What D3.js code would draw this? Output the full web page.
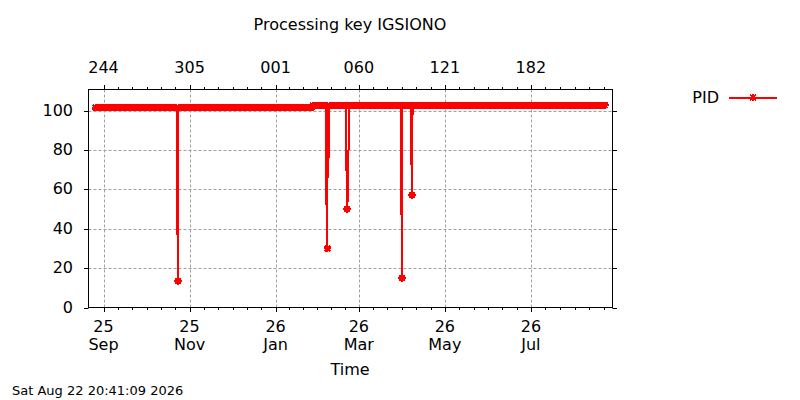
<!DOCTYPE html>
<html>
<head>
<meta charset="utf-8">
<script src="https://cdn.jsdelivr.net/npm/d3@7"></script>
<style>
    body { margin: 0; background: #ffffff; }
    svg text { font-family: "DejaVu Sans", sans-serif; fill: #000000; }
</style>
</head>
<body>
<div id="chart"></div>
<script>
// values
const title_text = "Processing key IGSIONO"
const x_label = "Time"
const series_name = "PID"
const time_stamp = "Sat Aug 22 20:41:09 2026"

const x_domain = ["2025-08-21T08:40", "2026-08-27T20:40"]
const x_ticks = ["2025-09-01", "2025-11-01", "2026-01-01", "2026-03-01", "2026-05-01", "2026-07-01"]
const y_domain = [0, 110.7]
const y_ticks = [0, 20, 40, 60, 80, 100]

// PID level, one sample a day, kept as runs of equal value
const run_from = ["2025-08-26", "2026-01-27"]
const run_to = ["2026-01-26", "2026-08-22"]
const run_value = [101.5, 102.6]

// drops below the level
const dip_times = [
    ["2025-10-23T00:00", "2025-10-23T06:00", "2025-10-23T17:00", "2025-10-23T19:00"],
    ["2026-02-05T14:00", "2026-02-05T18:00", "2026-02-06T16:00", "2026-02-06T19:00", "2026-02-07T11:00", "2026-02-07T17:00"],
    ["2026-02-20T00:00", "2026-02-20T03:00", "2026-02-20T20:00", "2026-02-21T11:30", "2026-02-21T20:00", "2026-02-22T05:00"],
    ["2026-03-30T22:00", "2026-03-31T02:00", "2026-03-31T20:00", "2026-03-31T23:00"],
    ["2026-04-06T18:00", "2026-04-07T05:00", "2026-04-07T17:00", "2026-04-08T03:00"]
]
const dip_values = [
    [101.5, 57, 13.5, 101.5],
    [102.6, 66, 30, 102.6, 66, 102.6],
    [102.6, 75, 50, 63, 89, 102.6],
    [102.6, 58, 15, 102.6],
    [102.6, 80, 57, 102.6]
]

const SVGWIDTH = 800, SVGHEIGHT = 400
const plot = {left: 88.5, right: 612.5, top: 89.5, bottom: 307.5}
const line_color = "#ff0000", grid_color = "#a0a0a0"

const parseTime = d3.timeParse("%Y-%m-%dT%H:%M")
const parseDay = d3.timeParse("%Y-%m-%d")

let axis_x = d3.scaleTime().domain(x_domain.map(parseTime)).range([plot.left, plot.right])
let axis_y = d3.scaleLinear().domain(y_domain).range([plot.bottom, plot.top])

// expand the runs into daily samples (noon)
let level_points = []
for (let i = 0; i < run_from.length; i++) {
    let days = d3.timeDay.range(parseDay(run_from[i]), d3.timeDay.offset(parseDay(run_to[i]), 1))
    for (let day of days) {
        level_points.push({t: d3.timeHour.offset(day, 12), v: run_value[i]})
    }
}

let dips = dip_times.map((times, i) => times.map((s, j) => ({t: parseTime(s), v: dip_values[i][j]})))
// daily samples that fall inside a drop are replaced by the drop itself
level_points = level_points.filter(p => !dips.some(d => p.t >= d[0].t && p.t <= d[d.length - 1].t))

let all_points = level_points.concat(...dips).sort((a, b) => a.t - b.t)
let marked_points = level_points.concat(dips.map(d => d[d3.minIndex(d, p => p.v)]))

let svg = d3.select("#chart").append("svg")
    .attr("width", SVGWIDTH)
    .attr("height", SVGHEIGHT)
    .style("background-color", "#ffffff")

let major_dates = x_ticks.map(parseDay)
// minor tics split every two month step in six
let minor_dates = []
let steps = [d3.timeMonth.offset(major_dates[0], -2)].concat(major_dates)
for (let m of steps) {
    let next = d3.timeMonth.offset(m, 2)
    for (let k = 1; k < 6; k++) {
        let t = new Date(+m + (next - m) * k / 6)
        if (axis_x(t) > plot.left + 1 && axis_x(t) < plot.right - 1) minor_dates.push(t)
    }
}

// grid
let grid = svg.append("g")
grid.selectAll(".gx").data(major_dates).enter().append("line")
    .attr("x1", d => Math.round(axis_x(d)) + 0.5).attr("x2", d => Math.round(axis_x(d)) + 0.5)
    .attr("y1", plot.top).attr("y2", plot.bottom)
    .style("stroke", grid_color).style("stroke-width", 1).style("stroke-dasharray", "3,2")
grid.selectAll(".gy").data(y_ticks.filter(v => v > 0)).enter().append("line")
    .attr("x1", plot.left).attr("x2", plot.right)
    .attr("y1", d => Math.round(axis_y(d)) + 0.5).attr("y2", d => Math.round(axis_y(d)) + 0.5)
    .style("stroke", grid_color).style("stroke-width", 1).style("stroke-dasharray", "3,2")

// data
const curve = d3.line().x(d => axis_x(d.t)).y(d => axis_y(d.v))
svg.append("path")
    .attr("d", curve(all_points))
    .attr("fill", "none")
    .attr("shape-rendering", "crispEdges")
    .style("stroke", line_color).style("stroke-width", 2)

const star = "M-3.8,0H3.8M0,-3.8V3.8M-2.8,-2.8L2.8,2.8M-2.8,2.8L2.8,-2.8"
svg.append("g").selectAll("path")
    .data(marked_points).enter()
    .append("path")
    .attr("d", star)
    .attr("transform", d => "translate(" + axis_x(d.t) + "," + axis_y(d.v) + ")")
    .attr("fill", "none")
    .attr("shape-rendering", "crispEdges")
    .style("stroke", line_color).style("stroke-width", 2)

// border and tics
let frame = svg.append("g").style("stroke", "#000000").style("stroke-width", 1)
frame.append("rect")
    .attr("x", plot.left).attr("y", plot.top)
    .attr("width", plot.right - plot.left).attr("height", plot.bottom - plot.top)
    .attr("fill", "none")
for (let v of y_ticks) {
    let yy = Math.round(axis_y(v)) + 0.5
    frame.append("line").attr("x1", plot.left - 4.5).attr("x2", plot.left).attr("y1", yy).attr("y2", yy)
    frame.append("line").attr("x1", plot.right).attr("x2", plot.right + 4.5).attr("y1", yy).attr("y2", yy)
}
for (let d of major_dates) {
    let xx = Math.round(axis_x(d)) + 0.5
    frame.append("line").attr("x1", xx).attr("x2", xx).attr("y1", plot.top - 4.5).attr("y2", plot.top)
    frame.append("line").attr("x1", xx).attr("x2", xx).attr("y1", plot.bottom).attr("y2", plot.bottom + 4.5)
}
for (let d of minor_dates) {
    let xx = Math.round(axis_x(d)) + 0.5
    frame.append("line").attr("x1", xx).attr("x2", xx).attr("y1", plot.top - 2.5).attr("y2", plot.top)
    frame.append("line").attr("x1", xx).attr("x2", xx).attr("y1", plot.bottom).attr("y2", plot.bottom + 2.5)
}

// tic labels
svg.append("g").selectAll("text")
    .data(y_ticks).enter().append("text")
    .attr("x", 73).attr("y", d => axis_y(d) + 5)
    .attr("text-anchor", "end").style("font-size", "16px")
    .text(d => d)

const dayOfYear = d3.timeFormat("%j"), yearFmt = d3.timeFormat("%y"), monthFmt = d3.timeFormat("%b")
svg.append("g").selectAll("text")
    .data(major_dates).enter().append("text")
    .attr("x", d => axis_x(d)).attr("y", 73)
    .attr("text-anchor", "middle").style("font-size", "16px")
    .text(d => dayOfYear(d))

let bottom_labels = svg.append("g").selectAll("text")
    .data(major_dates).enter().append("text")
    .attr("text-anchor", "middle").style("font-size", "16px")
bottom_labels.append("tspan").attr("x", d => axis_x(d)).attr("y", 332).text(d => yearFmt(d))
bottom_labels.append("tspan").attr("x", d => axis_x(d)).attr("y", 350).text(d => monthFmt(d))

// titles
svg.append("text").attr("x", 350).attr("y", 30)
    .attr("text-anchor", "middle").style("font-size", "16px").text(title_text)
svg.append("text").attr("x", 350).attr("y", 375)
    .attr("text-anchor", "middle").style("font-size", "16px").text(x_label)
svg.append("text").attr("x", 12).attr("y", 395)
    .style("font-size", "13px").text(time_stamp)

// key
let key = svg.append("g")
key.append("text").attr("x", 719).attr("y", 103)
    .attr("text-anchor", "end").style("font-size", "16px").text(series_name)
key.append("line").attr("x1", 729).attr("x2", 777).attr("y1", 97.5).attr("y2", 97.5)
    .attr("shape-rendering", "crispEdges")
    .style("stroke", line_color).style("stroke-width", 2)
key.append("path").attr("d", star).attr("transform", "translate(753,97.5)")
    .attr("fill", "none").attr("shape-rendering", "crispEdges")
    .style("stroke", line_color).style("stroke-width", 2)
</script>
</body>
</html>
